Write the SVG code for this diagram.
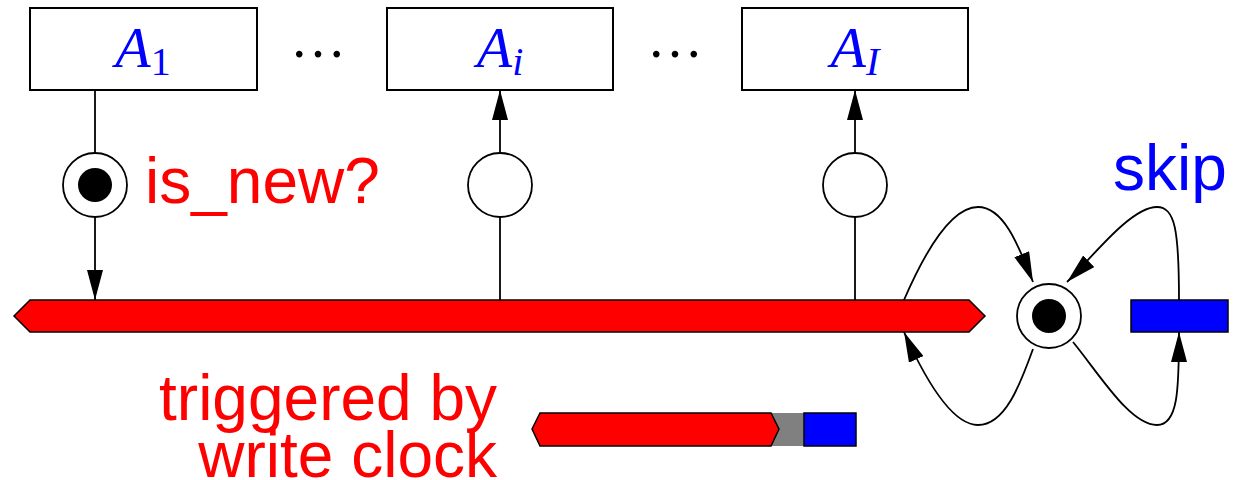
<svg xmlns="http://www.w3.org/2000/svg" width="1237" height="480" viewBox="0 0 1237 480">
<style>
.box{fill:#fff;stroke:#000;stroke-width:2}
.pl{fill:#fff;stroke:#000;stroke-width:1.8}
.tok{fill:#000}
.ln{fill:none;stroke:#000;stroke-width:1.8}
.math{font-family:"Liberation Serif",serif;font-style:italic;fill:#0000ff}
.sub{font-family:"Liberation Serif",serif;fill:#0000ff}
.red{fill:#ff0000;stroke:#000;stroke-width:1.5}
.blue{fill:#0000ff;stroke:#000;stroke-width:1.5}
.lbl{font-family:"Liberation Sans",Arial,sans-serif;font-size:64px}
</style>
<defs>
<marker id="ah" markerUnits="userSpaceOnUse" markerWidth="30" markerHeight="16" refX="30" refY="8" orient="auto" viewBox="0 0 30 16">
<path d="M0,0 L30,8 L0,16 z" fill="#000"/>
</marker>
</defs>
<g id="A1">
<rect class="box" x="30" y="8" width="227" height="82"/>
<text x="143" y="67" text-anchor="middle"><tspan class="math" font-size="58">A</tspan><tspan class="sub" font-size="40" dy="8">1</tspan></text>
</g>
<g id="dots1"><text x="318" y="57" text-anchor="middle" font-family="Liberation Serif,serif" font-size="56">…</text></g>
<g id="Ai">
<rect class="box" x="387" y="8" width="226" height="82"/>
<text x="500" y="67" text-anchor="middle"><tspan class="math" font-size="58">A</tspan><tspan class="math" font-size="40" dy="8">i</tspan></text>
</g>
<g id="dots2"><text x="675" y="57" text-anchor="middle" font-family="Liberation Serif,serif" font-size="56">…</text></g>
<g id="AI">
<rect class="box" x="742" y="8" width="226" height="82"/>
<text x="855" y="67" text-anchor="middle"><tspan class="math" font-size="58">A</tspan><tspan class="math" font-size="40" dy="8">I</tspan></text>
</g>
<g id="p1"><circle class="pl" cx="95" cy="185" r="32"/><circle class="tok" cx="95" cy="185" r="17"/></g>
<g id="pi"><circle class="pl" cx="500" cy="185" r="32"/></g>
<g id="pI"><circle class="pl" cx="855" cy="185" r="32"/></g>
<g id="pskip"><circle class="pl" cx="1049" cy="316" r="32"/><circle class="tok" cx="1049" cy="316" r="17"/></g>
<g id="bar"><polygon class="red" points="14,316 30,300 969,300 985,316 969,332 30,332"/></g>
<g id="skiprect"><rect class="blue" x="1131" y="300" width="97" height="32"/></g>
<g id="legend">
<rect x="771" y="413" width="33" height="33" fill="#808080"/>
<polygon class="red" points="532,429 540,413 771,413 779,429 771,446 540,446"/>
<rect class="blue" x="804" y="413" width="52" height="33"/>
</g>
<g id="connectors">
<line class="ln" x1="95" y1="90" x2="95" y2="153"/>
<line class="ln" x1="95" y1="217" x2="95" y2="300" marker-end="url(#ah)"/>
<line class="ln" x1="500" y1="300" x2="500" y2="217"/>
<line class="ln" x1="500" y1="153" x2="500" y2="90" marker-end="url(#ah)"/>
<line class="ln" x1="855" y1="300" x2="855" y2="217"/>
<line class="ln" x1="855" y1="153" x2="855" y2="90" marker-end="url(#ah)"/>
<path class="ln" d="M904,300 C930,240 955,207 978,207 C1005,207 1020,250 1033,282" marker-end="url(#ah)"/>
<path class="ln" d="M1179,300 C1179,230 1175,207 1157,207 C1130,207 1090,260 1067,282" marker-end="url(#ah)"/>
<path class="ln" d="M1033,349 C1020,385 1005,425 978,425 C955,425 930,390 904,332" marker-end="url(#ah)"/>
<path class="ln" d="M1073,342 C1100,375 1130,425 1157,425 C1178,425 1179,390 1179,332" marker-end="url(#ah)"/>
</g>
<g id="labels">
<text class="lbl" x="145" y="203" fill="#ff0000">is_new?</text>
<text class="lbl" x="1113" y="190" fill="#0000ff">skip</text>
<text class="lbl" x="497" y="420" fill="#ff0000" text-anchor="end">triggered by</text>
<text class="lbl" x="497" y="477" fill="#ff0000" text-anchor="end">write clock</text>
</g>
</svg>
